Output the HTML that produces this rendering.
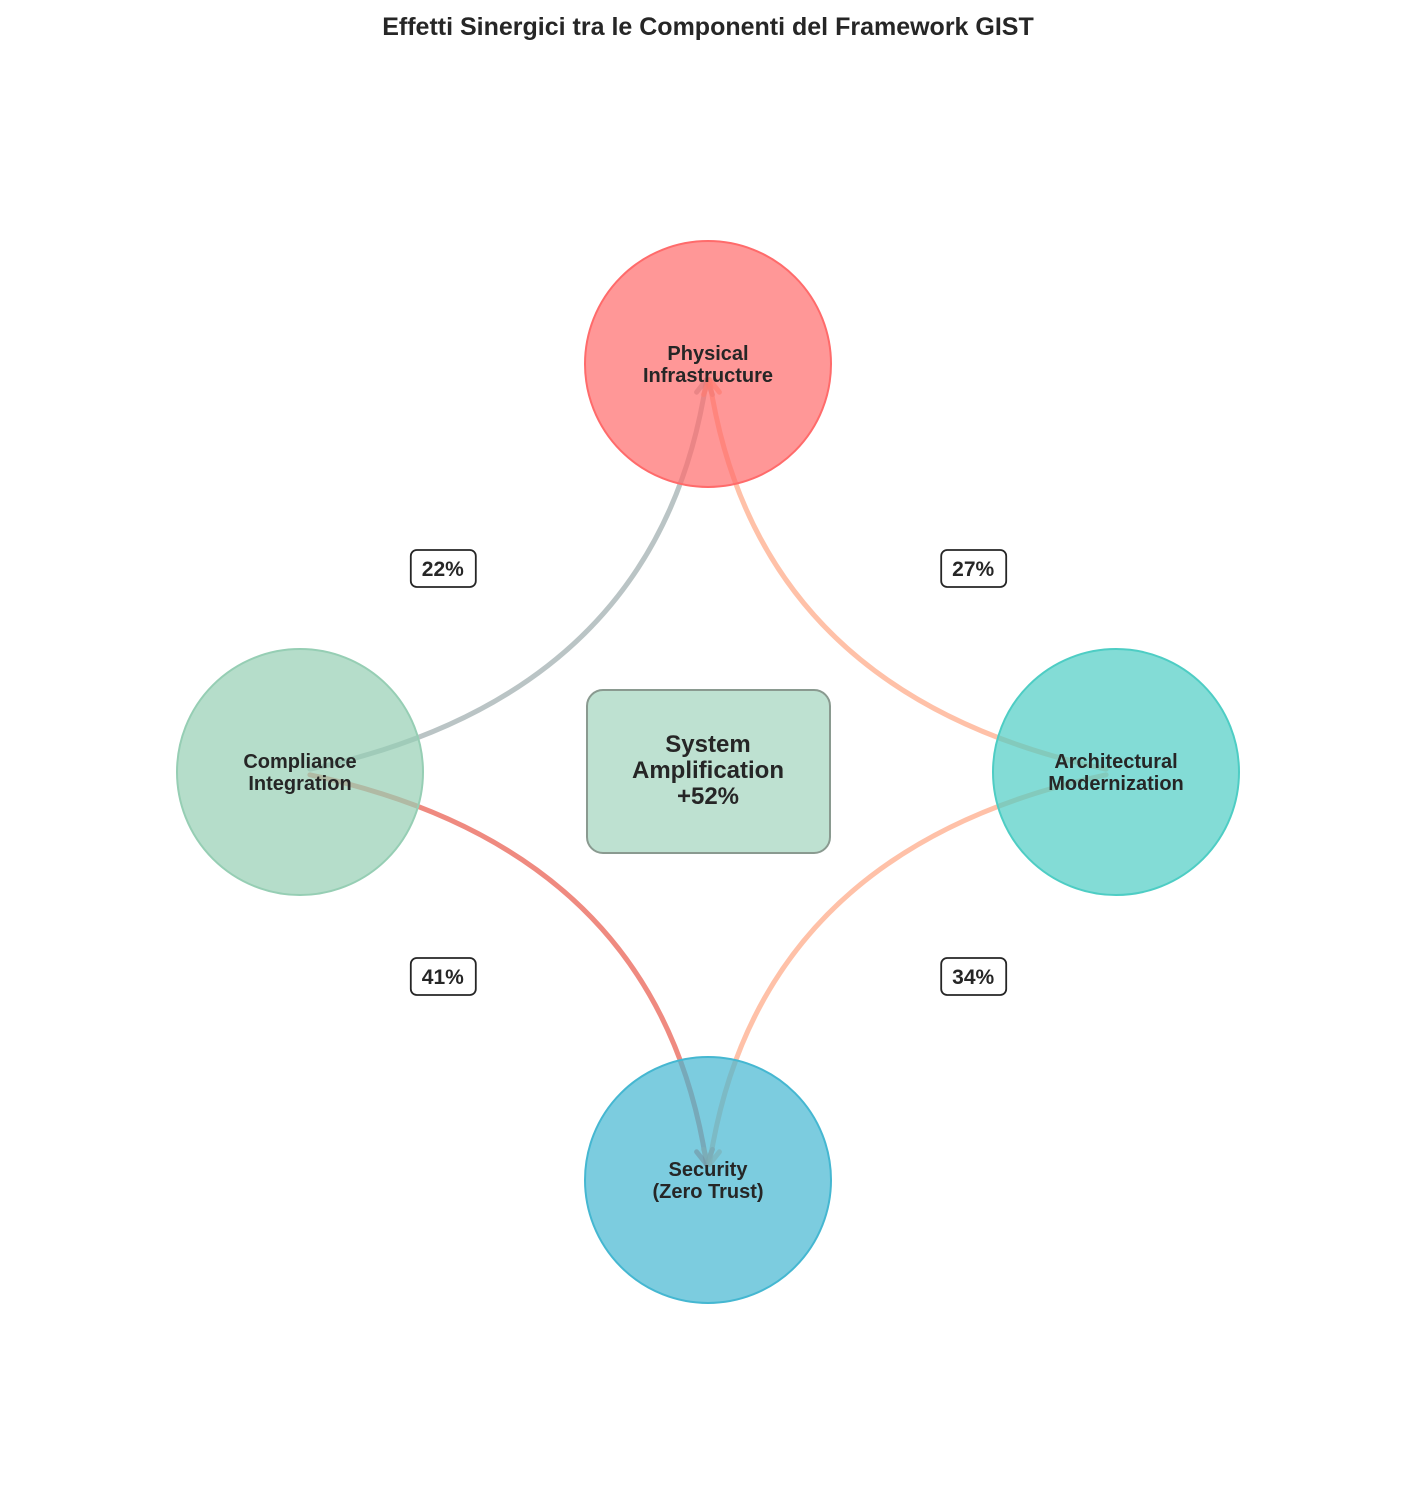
<!DOCTYPE html>
<html><head><meta charset="utf-8"><style>
html,body{margin:0;padding:0;background:#fff}
svg text{font-family:"Liberation Sans",Arial,sans-serif}
</style></head><body>
<svg id="chart" width="1417" height="1481" viewBox="0 0 1417 1481" xmlns="http://www.w3.org/2000/svg">
<text x="708" y="35" text-anchor="middle" font-size="25" font-weight="bold" fill="#262626">Effetti Sinergici tra le Componenti del Framework GIST</text>
<g id="links"></g>
<g id="nodes"></g>
<g id="labels"></g>
</svg>
<script>
const nodeNames = ["Physical\nInfrastructure","Architectural\nModernization","Security\n(Zero Trust)","Compliance\nIntegration"];
const nodeColors = ["#FF6B6B","#4ECDC4","#45B7D1","#96CEB4"];
const linkFrom = [3,1,3,1];
const linkTo = [0,0,2,2];
const linkValues = [22,27,41,34];
const linkColors = ["#95A5A6","#FFA07A","#E74C3C","#FFA07A"];
const amplification = 52;

const cx=708, cy=772, R=408, nodeR=123;
const ns="http://www.w3.org/2000/svg";
function pos(i){const a=Math.PI/2 - i*Math.PI/2;return [cx+R*Math.cos(a), cy-R*Math.sin(a)];}
function mk(t,attrs,parent){const e=document.createElementNS(ns,t);for(const k in attrs)e.setAttribute(k,attrs[k]);parent.appendChild(e);return e;}
const gL=document.getElementById('links'), gN=document.getElementById('nodes'), gT=document.getElementById('labels');

linkValues.forEach((v,i)=>{
  const a=pos(linkFrom[i]), b=pos(linkTo[i]);
  const dx=b[0]-a[0], dy=b[1]-a[1], L=Math.hypot(dx,dy);
  const p0=[a[0]+dx/L*14,a[1]+dy/L*4], p2=[b[0]-dx/L*2,b[1]-dy/L*22];
  const m=[(a[0]+b[0])/2,(a[1]+b[1])/2];
  const c2=[m[0]+(cx-m[0])*0.76, m[1]+(cy-m[1])*0.62];
  const path=mk('path',{d:`M${p0[0]},${p0[1]} Q${c2[0]},${c2[1]} ${p2[0]},${p2[1]}`,fill:'none',stroke:linkColors[i],'stroke-width':5,'stroke-opacity':0.65,'stroke-linecap':'round'},gL);
  
  
  const tx=p2[0]-c2[0], ty=p2[1]-c2[1], tl=Math.hypot(tx,ty), ux=tx/tl, uy=ty/tl;
  const hs=14, w=8;
  const head=mk('path',{d:`M${p2[0]-ux*hs-uy*w},${p2[1]-uy*hs+ux*w} L${p2[0]},${p2[1]} L${p2[0]-ux*hs+uy*w},${p2[1]-uy*hs-ux*w}`,fill:'none',stroke:linkColors[i],'stroke-width':5,'stroke-opacity':0.65,'stroke-linecap':'round','stroke-linejoin':'round'},gL);
  
  
  const lx=m[0]+0.3*(m[0]-cx), ly=m[1];
  const g=mk('g',{},gT);
  
  
  mk('rect',{x:lx-32,y:ly-18,width:65,height:37,rx:6,fill:'#fff',stroke:'#262626','stroke-width':1.8},g);
  const t=mk('text',{x:lx,y:ly+8,'text-anchor':'middle','font-size':21,'font-weight':'bold',fill:'#262626'},g);
  t.textContent=v+'%';
});

nodeNames.forEach((n,i)=>{
  const p=pos(i);
  const c=mk('circle',{cx:p[0],cy:p[1],r:nodeR,fill:nodeColors[i],'fill-opacity':0.7,stroke:nodeColors[i],'stroke-width':2},gN);
  
  
  const lines=n.split('\n');
  lines.forEach((ln,k)=>{
    const t=mk('text',{x:p[0],y:p[1]-4+k*22,'text-anchor':'middle','font-size':20,'font-weight':'bold',fill:'#262626'},gN);
    
    
    t.textContent=ln;
  });
});

const box=mk('rect',{x:587,y:690,width:243,height:163,rx:16,fill:'#96CEB4','fill-opacity':0.62,stroke:'#8a9a90','stroke-width':2},gN);


["System","Amplification","+"+amplification+"%"].forEach((s,k)=>{
  const t=mk('text',{x:708,y:752+k*26,'text-anchor':'middle','font-size':24,'font-weight':'bold',fill:'#262626'},gN);
  
  
  t.textContent=s;
});
</script>
</body></html>
